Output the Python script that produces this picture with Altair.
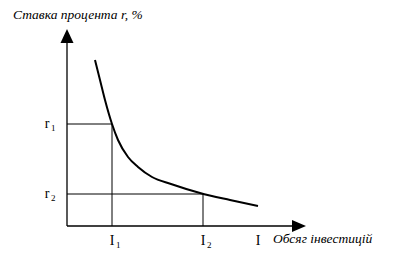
import altair as alt
import pandas as pd

# Investment demand curve: investment volume vs. interest rate (schematic units)
curve_invest = [28, 33, 38, 45, 51, 61, 71, 85, 104, 133, 163, 191]
curve_rate = [166, 146, 126, 102, 86, 69, 59, 49, 42, 33, 26, 20]

# Two marked points on the curve
rate_levels = [102, 32]
invest_levels = [45, 136]
rate_names = ["r", "r"]
invest_names = ["I", "I"]
subscripts = ["1", "2"]

# Axis extents
y_axis_top = 183
x_axis_right = 225

X_DOMAIN = [-67, 331]
Y_DOMAIN = [-37, 226]
SERIF = "Liberation Serif"

xs = alt.Scale(domain=X_DOMAIN, nice=False, zero=False)
ys = alt.Scale(domain=Y_DOMAIN, nice=False, zero=False)

curve_df = pd.DataFrame({"I": curve_invest, "r": curve_rate})

seg_rows = []
# axes
seg_rows.append({"x": 0, "y": 0, "x2": 0, "y2": y_axis_top})
seg_rows.append({"x": 0, "y": 0, "x2": x_axis_right, "y2": 0})
# guide lines to the marked points
for rv, iv in zip(rate_levels, invest_levels):
    seg_rows.append({"x": 0, "y": rv, "x2": iv, "y2": rv})
    seg_rows.append({"x": iv, "y": 0, "x2": iv, "y2": rv})
seg_df = pd.DataFrame(seg_rows)

axis_df = seg_df.iloc[:2]
guide_df = seg_df.iloc[2:]

def segs(df, width):
    return alt.Chart(df).mark_rule(color="black", strokeWidth=width).encode(
        x=alt.X("x:Q", scale=xs, axis=None),
        y=alt.Y("y:Q", scale=ys, axis=None),
        x2="x2:Q",
        y2="y2:Q",
    )

axes = segs(axis_df, 1.3)
guides = segs(guide_df, 1)

curve = alt.Chart(curve_df).mark_line(
    color="black", strokeWidth=2, interpolate="monotone"
).encode(
    x=alt.X("I:Q", scale=xs, axis=None),
    y=alt.Y("r:Q", scale=ys, axis=None),
)

up_arrow = alt.Chart(pd.DataFrame({"x": [0], "y": [190]})).mark_point(
    shape="M0,-1L0.93,1L-0.93,1Z", size=196, filled=True, color="black", opacity=1
).encode(x=alt.X("x:Q", scale=xs, axis=None), y=alt.Y("y:Q", scale=ys, axis=None))

right_arrow = alt.Chart(pd.DataFrame({"x": [232], "y": [0]})).mark_point(
    shape="M1,0L-1,0.86L-1,-0.86Z", size=196, filled=True, color="black", opacity=1
).encode(x=alt.X("x:Q", scale=xs, axis=None), y=alt.Y("y:Q", scale=ys, axis=None))

# Rate labels on the vertical axis
r_df = pd.DataFrame({"x": [-20, -20], "y": rate_levels, "t": rate_names, "s": subscripts})
r_main = alt.Chart(r_df).mark_text(
    font=SERIF, fontSize=14, align="center", baseline="alphabetic", dy=4
).encode(x=alt.X("x:Q", scale=xs, axis=None), y=alt.Y("y:Q", scale=ys, axis=None), text="t:N")
r_sub = alt.Chart(r_df).mark_text(
    font=SERIF, fontSize=9, align="left", baseline="alphabetic", dx=4, dy=7
).encode(x=alt.X("x:Q", scale=xs, axis=None), y=alt.Y("y:Q", scale=ys, axis=None), text="s:N")

# Investment labels on the horizontal axis
i_df = pd.DataFrame({"x": invest_levels, "y": [-19, -19], "t": invest_names, "s": subscripts})
i_main = alt.Chart(i_df).mark_text(
    font=SERIF, fontSize=14, align="center", baseline="alphabetic"
).encode(x=alt.X("x:Q", scale=xs, axis=None), y=alt.Y("y:Q", scale=ys, axis=None), text="t:N")
i_sub = alt.Chart(i_df).mark_text(
    font=SERIF, fontSize=9, align="left", baseline="alphabetic", dx=4, dy=3
).encode(x=alt.X("x:Q", scale=xs, axis=None), y=alt.Y("y:Q", scale=ys, axis=None), text="s:N")

axis_names = pd.DataFrame({
    "x": [191, 206, -54],
    "y": [-19, -17, 207],
    "t": ["I", "Обсяг інвестицій", "Ставка процента r, %"],
})
names_plain = alt.Chart(axis_names.iloc[:1]).mark_text(
    font=SERIF, fontSize=14, align="center", baseline="alphabetic"
).encode(x=alt.X("x:Q", scale=xs, axis=None), y=alt.Y("y:Q", scale=ys, axis=None), text="t:N")
names_italic = alt.Chart(axis_names.iloc[1:]).mark_text(
    font=SERIF, fontSize=13.5, fontStyle="italic", align="left", baseline="alphabetic"
).encode(x=alt.X("x:Q", scale=xs, axis=None), y=alt.Y("y:Q", scale=ys, axis=None), text="t:N")

chart = alt.layer(
    guides, axes, curve, up_arrow, right_arrow,
    r_main, r_sub, i_main, i_sub, names_plain, names_italic,
).properties(
    width=398, height=263,
    autosize=alt.AutoSizeParams(type="none"),
    padding=0,
    background="white",
).configure_view(stroke=None)

chart.save("out.html", embed_options={"renderer": "svg", "actions": False})
